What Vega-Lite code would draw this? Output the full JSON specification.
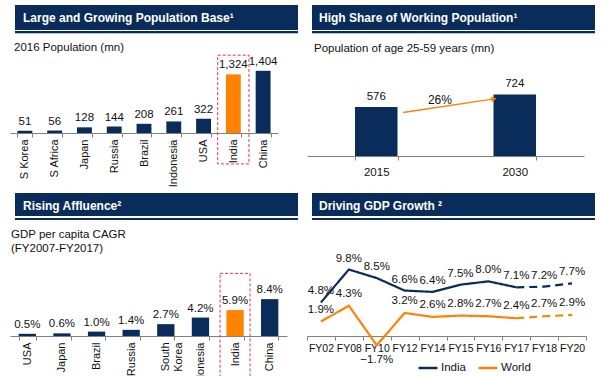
{
  "$schema": "https://vega.github.io/schema/vega-lite/v6.json",
  "padding": {"left": 9, "top": 5, "right": 0, "bottom": 0},
  "autosize": {"type": "pad"},
  "background": "white",
  "config": {
    "view": {"stroke": null},
    "font": "Liberation Sans",
    "axis": {"labelColor": "#111", "domainColor": "#808080", "tickColor": "#808080", "tickSize": 4, "title": null, "grid": false},
    "text": {"fontSize": 11.5, "color": "#111"},
    "title": {"anchor": "start", "frame": "group", "color": "#111", "fontWeight": "normal", "fontSize": 11.5}
  },
  "columns": 2,
  "spacing": {"row": 37, "column": 14},
  "bounds": "flush",
  "center": false,
  "concat": [
    {
      "width": 283, "height": 29,
      "view": {"stroke": null, "fill": {"gradient": "linear", "x1": 0, "y1": 0, "x2": 0, "y2": 1, "stops": [{"offset": 0, "color": "#0a2c5a"}, {"offset": 0.862, "color": "#0a2c5a"}, {"offset": 0.862, "color": "#ffffff"}, {"offset": 0.9, "color": "#ffffff"}, {"offset": 0.9, "color": "#0a2c5a"}, {"offset": 0.97, "color": "#0a2c5a"}, {"offset": 0.97, "color": "#b8c4d6"}, {"offset": 1, "color": "#b8c4d6"}]}},
      "title": {"text": "Large and Growing Population Base¹", "color": "white", "fontSize": 12, "fontWeight": "bold", "offset": 0, "dx": 8, "dy": 20},
      "data": {"values": [{}]},
      "mark": {"type": "text"},
      "encoding": {"text": {"value": ""}}
    },
    {
      "width": 283, "height": 29,
      "view": {"stroke": null, "fill": {"gradient": "linear", "x1": 0, "y1": 0, "x2": 0, "y2": 1, "stops": [{"offset": 0, "color": "#0a2c5a"}, {"offset": 0.862, "color": "#0a2c5a"}, {"offset": 0.862, "color": "#ffffff"}, {"offset": 0.9, "color": "#ffffff"}, {"offset": 0.9, "color": "#0a2c5a"}, {"offset": 0.97, "color": "#0a2c5a"}, {"offset": 0.97, "color": "#b8c4d6"}, {"offset": 1, "color": "#b8c4d6"}]}},
      "title": {"text": "High Share of Working Population¹", "color": "white", "fontSize": 12, "fontWeight": "bold", "offset": 0, "dx": 7, "dy": 20},
      "data": {"values": [{}]},
      "mark": {"type": "text"},
      "encoding": {"text": {"value": ""}}
    },
    {
      "width": 283, "height": 62,
      "title": {"text": "2016 Population (mn)", "offset": 1, "dx": -1},
      "data": {"values": [
        {"country": "S Korea", "pop": 51},
        {"country": "S Africa", "pop": 56},
        {"country": "Japan", "pop": 128},
        {"country": "Russia", "pop": 144},
        {"country": "Brazil", "pop": 208},
        {"country": "Indonesia", "pop": 261},
        {"country": "USA", "pop": 322},
        {"country": "India", "pop": 1324},
        {"country": "China", "pop": 1404}
      ]},
      "encoding": {
        "x": {"field": "country", "type": "nominal", "sort": null, "scale": {"range": [-5, 263], "paddingInner": 0.5, "paddingOuter": 0.25},
              "axis": {"labelAngle": -90, "labelAlign": "right", "labelBaseline": "middle", "tickBand": "extent", "labelFontSize": 11, "labelPadding": 2}}
      },
      "layer": [
        {"mark": {"type": "bar"},
         "encoding": {"y": {"field": "pop", "type": "quantitative", "scale": {"domain": [0, 1397]}, "axis": null},
                      "color": {"condition": {"test": "datum.country === 'India'", "value": "#ff8200"}, "value": "#0a2c5a"}}},
        {"mark": {"type": "text", "baseline": "bottom", "dy": -4},
         "encoding": {"y": {"field": "pop", "type": "quantitative", "axis": null}, "text": {"field": "pop", "type": "quantitative", "format": ","}}},
        {"transform": [{"filter": "datum.country === 'India'"}],
         "mark": {"type": "bar", "width": {"band": 2.1}, "filled": false, "stroke": "#e8343c", "strokeDash": [3, 2], "strokeWidth": 1},
         "encoding": {"y": {"datum": 1757, "type": "quantitative", "axis": null}, "y2": {"datum": -698}}}
      ]
    },
    {
      "width": 283, "height": 85,
      "title": {"text": "Population of age 25-59 years (mn)", "offset": 17, "dx": 2},
      "layer": [
        {
          "data": {"values": [{"year": "2015", "pop": 576}, {"year": "2030", "pop": 724}]},
          "encoding": {
            "x": {"field": "year", "type": "nominal", "scale": {"range": [-5, 272], "paddingInner": 0.693, "paddingOuter": 0.3465},
                  "axis": {"labelAngle": 0, "tickBand": "extent", "labelFontSize": 11.5, "labelPadding": 6}},
            "y": {"field": "pop", "type": "quantitative", "scale": {"domain": [0, 907]}, "axis": null}
          },
          "layer": [
            {"mark": {"type": "bar", "color": "#0a2c5a"}},
            {"mark": {"type": "text", "baseline": "bottom", "dy": -5}, "encoding": {"text": {"field": "pop", "type": "quantitative"}}}
          ]
        },
        {
          "data": {"values": [{"growth": 0.26}]},
          "layer": [
            {"mark": {"type": "rule", "color": "#ff8200", "strokeWidth": 1.5},
             "encoding": {"x": {"datum": 0.693, "type": "quantitative", "scale": {"domain": [0, 2], "range": [-5, 272]}, "axis": null}, "x2": {"datum": 1.35},
                          "y": {"datum": 512, "type": "quantitative", "axis": null}, "y2": {"datum": 672}}},
            {"mark": {"type": "point", "shape": "triangle-right", "filled": true, "color": "#ff8200", "size": 35, "angle": 350.6, "opacity": 1},
             "encoding": {"x": {"datum": 1.35, "type": "quantitative", "axis": null}, "y": {"datum": 672, "type": "quantitative", "axis": null}}},
            {"mark": {"type": "text", "fontSize": 12},
             "encoding": {"x": {"datum": 0.96, "type": "quantitative", "axis": null}, "y": {"datum": 661, "type": "quantitative", "axis": null},
                          "text": {"field": "growth", "type": "quantitative", "format": ".0%"}}}
          ]
        }
      ],
      "resolve": {"scale": {"x": "independent"}}
    },
    {
      "width": 283, "height": 27,
      "view": {"stroke": null, "fill": {"gradient": "linear", "x1": 0, "y1": 0, "x2": 0, "y2": 1, "stops": [{"offset": 0, "color": "#0a2c5a"}, {"offset": 0.852, "color": "#0a2c5a"}, {"offset": 0.852, "color": "#ffffff"}, {"offset": 0.926, "color": "#ffffff"}, {"offset": 0.926, "color": "#0a2c5a"}, {"offset": 1, "color": "#0a2c5a"}]}},
      "title": {"text": "Rising Affluence²", "color": "white", "fontSize": 12, "fontWeight": "bold", "offset": 0, "dx": 8, "dy": 20},
      "data": {"values": [{}]},
      "mark": {"type": "text"},
      "encoding": {"text": {"value": ""}}
    },
    {
      "width": 283, "height": 27,
      "view": {"stroke": null, "fill": {"gradient": "linear", "x1": 0, "y1": 0, "x2": 0, "y2": 1, "stops": [{"offset": 0, "color": "#0a2c5a"}, {"offset": 0.852, "color": "#0a2c5a"}, {"offset": 0.852, "color": "#ffffff"}, {"offset": 0.926, "color": "#ffffff"}, {"offset": 0.926, "color": "#0a2c5a"}, {"offset": 1, "color": "#0a2c5a"}]}},
      "title": {"text": "Driving GDP Growth ²", "color": "white", "fontSize": 12, "fontWeight": "bold", "offset": 0, "dx": 7, "dy": 20},
      "data": {"values": [{}]},
      "mark": {"type": "text"},
      "encoding": {"text": {"value": ""}}
    },
    {
      "width": 283, "height": 79,
      "title": {"text": ["GDP per capita CAGR", "(FY2007-FY2017)"], "offset": 3, "dx": -4, "lineHeight": 13.5},
      "data": {"values": [
        {"country": "USA", "cagr": 0.005},
        {"country": "Japan", "cagr": 0.006},
        {"country": "Brazil", "cagr": 0.010},
        {"country": "Russia", "cagr": 0.014},
        {"country": "South Korea", "cagr": 0.027},
        {"country": "Indonesia", "cagr": 0.042},
        {"country": "India", "cagr": 0.059},
        {"country": "China", "cagr": 0.084}
      ]},
      "encoding": {
        "x": {"field": "country", "type": "nominal", "sort": null, "scale": {"range": [-5, 272], "paddingInner": 0.5, "paddingOuter": 0.25},
              "axis": {"labelAngle": -90, "labelAlign": "right", "labelBaseline": "middle", "tickBand": "extent", "labelFontSize": 11, "labelPadding": 2,
                       "labelExpr": "datum.value === 'South Korea' ? ['South', 'Korea'] : datum.label"}}
      },
      "layer": [
        {"mark": {"type": "bar"},
         "encoding": {"y": {"field": "cagr", "type": "quantitative", "scale": {"domain": [0, 0.161]}, "axis": null},
                      "color": {"condition": {"test": "datum.country === 'India'", "value": "#ff8200"}, "value": "#0a2c5a"}}},
        {"mark": {"type": "text", "baseline": "bottom", "dy": -4},
         "encoding": {"y": {"field": "cagr", "type": "quantitative", "axis": null}, "text": {"field": "cagr", "type": "quantitative", "format": ".1%"}}},
        {"transform": [{"filter": "datum.country === 'India'"}],
         "mark": {"type": "bar", "width": {"band": 1.73}, "filled": false, "stroke": "#e8343c", "strokeDash": [3, 2], "strokeWidth": 1},
         "encoding": {"y": {"datum": 0.1427, "type": "quantitative", "axis": null}, "y2": {"datum": -0.13}}}
      ]
    },
    {
      "width": 283, "height": 79,
      "data": {"values": [
        {"fy": "FY02", "s": "India", "v": 0.048, "seg": "a"},
        {"fy": "FY08", "s": "India", "v": 0.098, "seg": "a"},
        {"fy": "FY10", "s": "India", "v": 0.085, "seg": "a"},
        {"fy": "FY12", "s": "India", "v": 0.066, "seg": "a"},
        {"fy": "FY14", "s": "India", "v": 0.064, "seg": "a"},
        {"fy": "FY15", "s": "India", "v": 0.075, "seg": "a"},
        {"fy": "FY16", "s": "India", "v": 0.080, "seg": "a"},
        {"fy": "FY17", "s": "India", "v": 0.071, "seg": "a"},
        {"fy": "FY17", "s": "India", "v": 0.071, "seg": "p"},
        {"fy": "FY18", "s": "India", "v": 0.072, "seg": "p"},
        {"fy": "FY20", "s": "India", "v": 0.077, "seg": "p"},
        {"fy": "FY02", "s": "World", "v": 0.019, "seg": "a"},
        {"fy": "FY08", "s": "World", "v": 0.043, "seg": "a"},
        {"fy": "FY10", "s": "World", "v": -0.017, "seg": "a"},
        {"fy": "FY12", "s": "World", "v": 0.032, "seg": "a"},
        {"fy": "FY14", "s": "World", "v": 0.026, "seg": "a"},
        {"fy": "FY15", "s": "World", "v": 0.028, "seg": "a"},
        {"fy": "FY16", "s": "World", "v": 0.027, "seg": "a"},
        {"fy": "FY17", "s": "World", "v": 0.024, "seg": "a"},
        {"fy": "FY17", "s": "World", "v": 0.024, "seg": "p"},
        {"fy": "FY18", "s": "World", "v": 0.027, "seg": "p"},
        {"fy": "FY20", "s": "World", "v": 0.029, "seg": "p"}
      ]},
      "encoding": {
        "x": {"field": "fy", "type": "ordinal", "bandPosition": 0.5,
              "scale": {"type": "band", "range": [-5, 274], "domain": ["FY02", "FY08", "FY10", "FY12", "FY14", "FY15", "FY16", "FY17", "FY18", "FY20"], "paddingInner": 0, "paddingOuter": 0},
              "axis": {"labelAngle": 0, "tickBand": "extent", "labelFontSize": 10.5, "labelPadding": 3}},
        "y": {"field": "v", "type": "quantitative", "scale": {"domain": [-0.003, 0.117]}, "axis": null}
      },
      "layer": [
        {"mark": {"type": "line", "strokeWidth": 2.2},
         "encoding": {
           "color": {"field": "s", "type": "nominal", "scale": {"domain": ["India", "World"], "range": ["#0a2c5a", "#ff8200"]},
                     "legend": {"orient": "none", "legendX": 402, "legendY": 352, "direction": "horizontal", "gridAlign": "none", "title": null, "symbolType": "stroke", "symbolSize": 360, "symbolStrokeWidth": 2.5, "labelFontSize": 11.5, "labelOffset": 2, "columnPadding": 7, "labelColor": "#111"}},
           "strokeDash": {"field": "seg", "type": "nominal", "scale": {"domain": ["a", "p"], "range": [[1, 0], [8, 5]]}, "legend": null}
         }},
        {"transform": [{"filter": "datum.s === 'India' && (datum.seg === 'a' || datum.fy !== 'FY17')"}],
         "mark": {"type": "text", "dy": -11},
         "encoding": {"text": {"field": "v", "type": "quantitative", "format": ".1%"}}},
        {"transform": [{"filter": "datum.s === 'World' && datum.v >= 0 && (datum.seg === 'a' || datum.fy !== 'FY17')"}],
         "mark": {"type": "text", "dy": -12},
         "encoding": {"text": {"field": "v", "type": "quantitative", "format": ".1%"}}},
        {"transform": [{"filter": "datum.s === 'World' && datum.v < 0"}],
         "mark": {"type": "text", "dy": 15},
         "encoding": {"text": {"field": "v", "type": "quantitative", "format": ".1%"}}}
      ]
    }
  ]
}
